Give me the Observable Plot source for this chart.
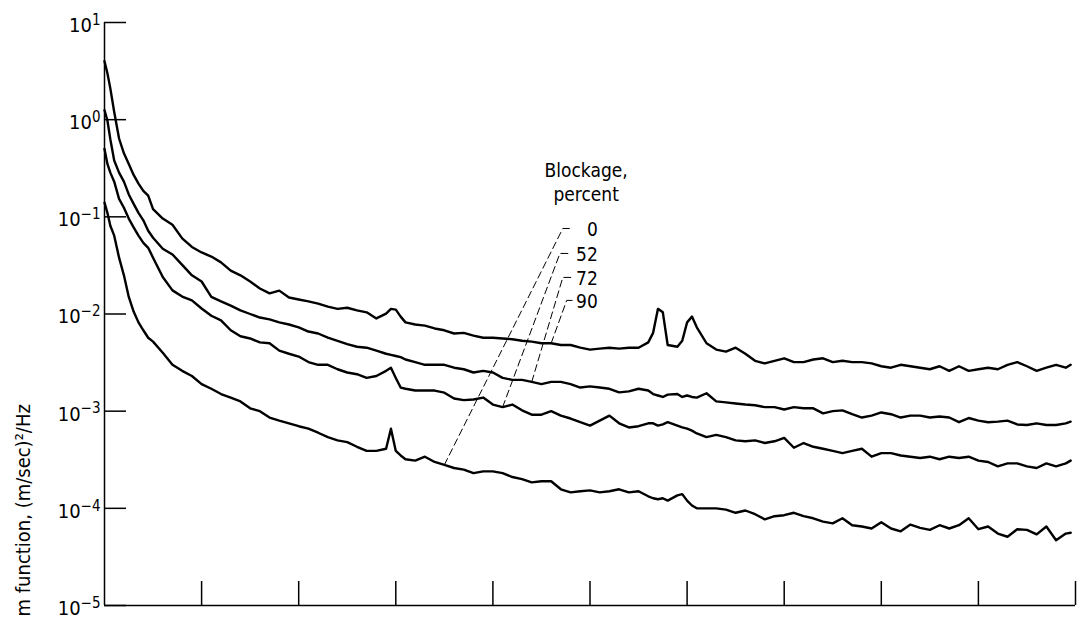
<!DOCTYPE html>
<html>
<head>
<meta charset="utf-8">
<script src="https://cdn.jsdelivr.net/npm/d3@7"></script>
<script src="https://cdn.jsdelivr.net/npm/@observablehq/plot@0.6"></script>
<style>
  html, body { margin: 0; padding: 0; background: #fff; overflow: hidden; }
  #chart svg { display: block; }
</style>
</head>
<body>
<div id="chart"></div>
<script>
// Frequency samples (same grid for every trace)
const freq = [
  0, 0.03, 0.06, 0.1, 0.15, 0.2, 0.25, 0.3, 0.35, 0.4, 0.45, 0.5,
  0.6, 0.7, 0.8, 0.9, 1.0, 1.1, 1.2, 1.3, 1.4, 1.5, 1.6, 1.7, 1.8, 1.9,
  2.0, 2.1, 2.2, 2.3, 2.4, 2.5, 2.6, 2.7, 2.8, 2.9,
  2.95, 3.0, 3.05,
  3.1, 3.2, 3.3, 3.4, 3.5, 3.6, 3.7, 3.8, 3.9, 4.0, 4.1, 4.2, 4.3, 4.4,
  4.5, 4.6, 4.7, 4.8, 4.9, 5.0, 5.1, 5.2, 5.3, 5.4, 5.5, 5.6,
  5.65, 5.7, 5.75, 5.8,
  5.9, 5.95, 6.0, 6.05, 6.1,
  6.2, 6.3, 6.4, 6.5, 6.6, 6.7, 6.8, 6.9, 7.0, 7.1, 7.2, 7.3, 7.4, 7.5,
  7.6, 7.7, 7.8, 7.9, 8.0, 8.1, 8.2, 8.3, 8.4, 8.5, 8.6, 8.7, 8.8, 8.9,
  9.0, 9.1, 9.2, 9.3, 9.4, 9.5, 9.6, 9.7, 9.8, 9.9,
  9.95
];

// Spectrum function, (m/sec)^2/Hz, for each blockage
const psd90 = [
  4.0, 3.0, 2.1, 1.2, 0.64, 0.45, 0.35, 0.27, 0.22, 0.185, 0.165, 0.12,
  0.096, 0.083, 0.060, 0.049, 0.043, 0.039, 0.034, 0.028, 0.025, 0.0216, 0.0183, 0.0163, 0.0174, 0.0148,
  0.0141, 0.0135, 0.0128, 0.0119, 0.0113, 0.0116, 0.0109, 0.0104, 0.0090, 0.0101,
  0.0113, 0.0111, 0.0094,
  0.0082, 0.0078, 0.0076, 0.0071, 0.0068, 0.0063, 0.0064, 0.0060, 0.0057, 0.0057, 0.0056, 0.0055, 0.0053, 0.0052,
  0.0050, 0.0050, 0.0048, 0.0048, 0.0045, 0.0043, 0.0044, 0.0045, 0.0044, 0.0045, 0.0045, 0.0051,
  0.0064, 0.0113, 0.0104, 0.0048,
  0.0046, 0.0053, 0.0082, 0.0094, 0.0073,
  0.0050, 0.0043, 0.0041, 0.0045, 0.0039, 0.0033, 0.0031, 0.0033, 0.0035, 0.0032, 0.0032, 0.0034, 0.0035, 0.0032,
  0.0033, 0.0032, 0.0032, 0.0031, 0.0029, 0.0028, 0.0030, 0.0029, 0.0028, 0.0027, 0.0029, 0.0026, 0.0029, 0.0026,
  0.0027, 0.0028, 0.0027, 0.0030, 0.0032, 0.0029, 0.0026, 0.0028, 0.0030, 0.0028,
  0.0030
];

const psd72 = [
  1.25, 0.98, 0.63, 0.38, 0.285, 0.23, 0.17, 0.136, 0.11, 0.092, 0.072, 0.061,
  0.047, 0.041, 0.032, 0.025, 0.0216, 0.0150, 0.0135, 0.0122, 0.0109, 0.0100, 0.0092, 0.0088, 0.0082, 0.0078,
  0.0073, 0.0066, 0.0063, 0.0057, 0.0053, 0.0049, 0.0046, 0.0045, 0.0042, 0.0039,
  0.0038, 0.0037, 0.0036,
  0.0034, 0.0032, 0.0030, 0.0030, 0.0030, 0.0028, 0.0027, 0.0025, 0.0026, 0.0025, 0.0022, 0.0021, 0.0021, 0.0020,
  0.0019, 0.0020, 0.0020, 0.0019, 0.00175, 0.0018, 0.00175, 0.0017, 0.00156, 0.0016, 0.0017, 0.00163,
  0.0015, 0.00145, 0.0014, 0.00148,
  0.0015, 0.0014, 0.00145, 0.0014, 0.00138,
  0.00153, 0.00126, 0.00123, 0.0012, 0.00117, 0.00115, 0.0011, 0.0011, 0.00104, 0.0011, 0.00107, 0.00107, 0.00095, 0.0010,
  0.00102, 0.00093, 0.00086, 0.0009, 0.00097, 0.00093, 0.00086, 0.0009, 0.0009, 0.00086, 0.00088, 0.00086, 0.00077, 0.00085,
  0.0008, 0.00077, 0.00078, 0.0008, 0.00073, 0.00072, 0.00075, 0.00072, 0.00072, 0.00075,
  0.00078
];

const psd52 = [
  0.5, 0.35, 0.285, 0.23, 0.153, 0.124, 0.096, 0.078, 0.064, 0.054, 0.048, 0.038,
  0.024, 0.0175, 0.0151, 0.0138, 0.0114, 0.0096, 0.0086, 0.0068, 0.0059, 0.0056, 0.0051, 0.0050, 0.0042, 0.0039,
  0.00365, 0.0032, 0.0030, 0.0030, 0.0027, 0.0025, 0.0024, 0.0022, 0.0023, 0.0026,
  0.0028, 0.0022, 0.00175,
  0.0017, 0.00163, 0.00163, 0.00163, 0.00155, 0.00135, 0.0013, 0.00132, 0.00138, 0.00117, 0.0011, 0.00117, 0.00102, 0.00092,
  0.00092, 0.0010, 0.0009, 0.00084, 0.00077, 0.00071, 0.0008, 0.0009, 0.00075, 0.00068, 0.0007, 0.00075,
  0.00075, 0.00071, 0.00073, 0.00077,
  0.00071, 0.00068, 0.00066, 0.00063, 0.00059,
  0.00054, 0.00057, 0.00054, 0.0005, 0.00049, 0.0005, 0.00047, 0.00049, 0.00053, 0.00042, 0.00047, 0.00043, 0.00041, 0.00039,
  0.00037, 0.00039, 0.00041, 0.00034, 0.00037, 0.00037, 0.00035, 0.00034, 0.00033, 0.00034, 0.00032, 0.00034, 0.00033, 0.00034,
  0.00031, 0.00030, 0.00027, 0.00029, 0.00029, 0.00027, 0.00026, 0.00029, 0.00027, 0.00029,
  0.00031
];

const psd0 = [
  0.14, 0.11, 0.081, 0.064, 0.038, 0.025, 0.015, 0.0106, 0.0082, 0.0068, 0.0057, 0.0052,
  0.0040, 0.0030, 0.0026, 0.0023, 0.0019, 0.0017, 0.0015, 0.00138, 0.00126, 0.00107, 0.0010, 0.00086, 0.0008, 0.00075,
  0.0007, 0.00066, 0.0006, 0.00054, 0.0005, 0.00048, 0.00043, 0.00039, 0.00039, 0.00041,
  0.00066, 0.00039, 0.00035,
  0.00032, 0.00031, 0.00034, 0.0003, 0.00028, 0.00026, 0.00025, 0.00023, 0.00024, 0.00024, 0.00023, 0.00021, 0.0002, 0.000185,
  0.00019, 0.00019, 0.000157, 0.000146, 0.00015, 0.000153, 0.000146, 0.00015, 0.000157, 0.000146, 0.00015, 0.000133,
  0.000127, 0.000124, 0.000127, 0.00012,
  0.000136, 0.00014, 0.00012, 0.000107, 0.0001,
  0.0001, 0.0001, 0.000097, 0.00009, 0.000095, 0.000087, 0.000077, 0.000083, 0.000085, 0.00009, 0.000083, 0.000079, 0.000073, 0.00007,
  0.000079, 0.000067, 0.000065, 0.000062, 0.000072, 0.000062, 0.000058, 0.000068, 0.000063, 0.00006, 0.000067, 0.000062, 0.000067, 0.000079,
  0.000061, 0.000065, 0.000055, 0.000051, 0.000061, 0.00006, 0.000054, 0.000065, 0.000047, 0.000055,
  0.000056
];

const blockage = ["90", "72", "52", "0"];
const yTicks = [1e-5, 1e-4, 1e-3, 1e-2, 1e-1, 1, 10];
const xTicks = [1, 2, 3, 4, 5, 6, 7, 8, 9, 10];
const yLabel = "m function, (m/sec)\u00b2/Hz";

const series = {"90": psd90, "72": psd72, "52": psd52, "0": psd0};
const rows = blockage.flatMap(b => freq.map((f, i) => ({blockage: b, freq: f, psd: series[b][i]})));

// Dashed leaders from each trace up to its legend number
const leaderLayout = [
  {blockage: "0",  at: 3.5, bend: 4.72, labelY: 0.0759},
  {blockage: "52", at: 4.1, bend: 4.69, labelY: 0.042},
  {blockage: "72", at: 4.4, bend: 4.72, labelY: 0.0238},
  {blockage: "90", at: 4.6, bend: 4.76, labelY: 0.0138}
];
const leaderRows = leaderLayout.flatMap(d => {
  const i = freq.indexOf(d.at);
  return [
    {blockage: d.blockage, x: d.at, y: series[d.blockage][i]},
    {blockage: d.blockage, x: d.bend, y: d.labelY},
    {blockage: d.blockage, x: d.bend + 0.09, y: d.labelY}
  ];
});

const FONT = '"Liberation Sans Narrow", "DejaVu Sans Condensed", "Liberation Sans", sans-serif';

const chart = Plot.plot({
  width: 1084,
  height: 620,
  marginLeft: 104,
  marginRight: 9,
  marginTop: 22,
  marginBottom: 15,
  style: {fontFamily: FONT, fontSize: "19px", color: "black", background: "white"},
  x: {domain: [0, 10], axis: null},
  y: {type: "log", domain: [1e-5, 10]},
  marks: [
    Plot.ruleX([0], {stroke: "black", strokeWidth: 1.5}),
    Plot.ruleY([1e-5], {stroke: "black", strokeWidth: 1.5}),
    Plot.tickY(yTicks, {stroke: "black", strokeWidth: 1.5, insetRight: 949}),
    Plot.tickX(xTicks, {stroke: "black", strokeWidth: 1.5, insetTop: 559}),
    Plot.axisY(yTicks, {
      tickSize: 0,
      tickPadding: 4,
      dy: 3,
      fontSize: 20,
      label: null,
      tickFormat: d => {
        const e = Math.round(Math.log10(d));
        return e < 0 ? "\u2212" + (-e) : String(e);
      }
    }),
    Plot.line(rows, {
      x: "freq", y: "psd", z: "blockage",
      stroke: "black", strokeWidth: 2.4, strokeLinejoin: "round", strokeLinecap: "round"
    }),
    Plot.line(leaderRows, {
      x: "x", y: "y", z: "blockage",
      stroke: "black", strokeWidth: 1, strokeDasharray: "7,4"
    }),
    Plot.text(leaderLayout, {x: () => 5.08, y: "labelY", text: "blockage", textAnchor: "end", dy: 1}),
    Plot.text(["Blockage,"], {x: () => 4.96, y: () => 0.296}),
    Plot.text(["percent"], {x: () => 4.96, y: () => 0.1675}),
    Plot.text([yLabel], {frameAnchor: "bottom-left", rotate: -90, textAnchor: "start", fontSize: 20, dx: -75, dy: 11})
  ]
});

// Tick labels read as powers of ten: "10" with a raised exponent
d3.select(chart).selectAll('g[aria-label="y-axis tick label"] text').each(function () {
  const t = d3.select(this);
  const exponent = t.text();
  t.text("10");
  t.append("tspan").attr("dy", "-0.48em").attr("font-size", "0.75em").text(exponent);
});

document.getElementById("chart").appendChild(chart);
</script>
</body>
</html>
